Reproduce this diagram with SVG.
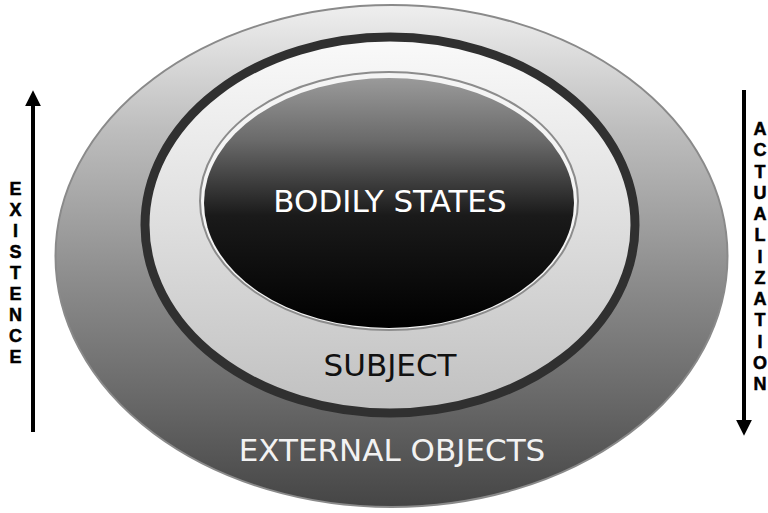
<svg xmlns="http://www.w3.org/2000/svg" width="768" height="513" viewBox="0 0 768 513">
  <defs>
    <linearGradient id="gOuter" x1="0" y1="0" x2="0" y2="1">
      <stop offset="0" stop-color="#efefef"/>
      <stop offset="0.25" stop-color="#bdbdbd"/>
      <stop offset="0.55" stop-color="#8c8c8c"/>
      <stop offset="0.8" stop-color="#666666"/>
      <stop offset="1" stop-color="#454545"/>
    </linearGradient>
    <linearGradient id="gSubject" x1="0" y1="0" x2="0" y2="1">
      <stop offset="0" stop-color="#fafafa"/>
      <stop offset="0.5" stop-color="#dedede"/>
      <stop offset="1" stop-color="#c0c0c0"/>
    </linearGradient>
    <linearGradient id="gInner" x1="0" y1="0" x2="0" y2="1">
      <stop offset="0" stop-color="#9a9a9a"/>
      <stop offset="0.25" stop-color="#6a6a6a"/>
      <stop offset="0.55" stop-color="#1a1a1a"/>
      <stop offset="1" stop-color="#000000"/>
    </linearGradient>
    <marker id="arrow" viewBox="0 0 10 10" refX="2" refY="5" markerWidth="4" markerHeight="4" orient="auto" markerUnits="strokeWidth">
      <path d="M0,0 L10,5 L0,10 Z" fill="#000"/>
    </marker>
    <style>
      .lbl { font-family: "DejaVu Sans", Verdana, sans-serif; font-size: 31px; text-anchor: middle; }
      .vert { font-family: "Liberation Sans", Arial, sans-serif; font-weight: bold; font-size: 18px; text-anchor: middle; fill: #000; stroke: #000; stroke-width: 0.5; }
      .axis { stroke: #000; stroke-width: 4; fill: none; }
    </style>
  </defs>

  <rect width="768" height="513" fill="#ffffff"/>

  <g id="external-objects">
    <ellipse cx="391.5" cy="256" rx="336" ry="251" fill="url(#gOuter)" stroke="#8a8a8a" stroke-width="2"/>
    <text class="lbl" x="392" y="461" fill="#f2f2f2">EXTERNAL OBJECTS</text>
  </g>

  <g id="subject">
    <ellipse cx="390" cy="225" rx="245" ry="188" fill="url(#gSubject)" stroke="#303030" stroke-width="9"/>
    <text class="lbl" x="390" y="376" fill="#111111">SUBJECT</text>
  </g>

  <g id="bodily-states">
    <ellipse cx="389" cy="201" rx="189" ry="129" fill="#f4f4f4" stroke="#8c8c8c" stroke-width="2"/>
    <ellipse cx="389" cy="203" rx="185" ry="125" fill="url(#gInner)"/>
    <text class="lbl" x="390" y="212" fill="#ffffff">BODILY STATES</text>
  </g>

  <g id="connectors">
    <g id="existence">
      <line class="axis" x1="33" y1="432" x2="33" y2="103" marker-end="url(#arrow)"/>
      <text class="vert" x="15.5" y="195">E</text>
      <text class="vert" x="15.5" y="216">X</text>
      <text class="vert" x="15.5" y="237">I</text>
      <text class="vert" x="15.5" y="258">S</text>
      <text class="vert" x="15.5" y="279">T</text>
      <text class="vert" x="15.5" y="300">E</text>
      <text class="vert" x="15.5" y="321">N</text>
      <text class="vert" x="15.5" y="342">C</text>
      <text class="vert" x="15.5" y="363">E</text>
    </g>
    <g id="actualization">
      <line class="axis" x1="744" y1="90" x2="744" y2="423" marker-end="url(#arrow)"/>
      <text class="vert" x="760" y="135">A</text>
      <text class="vert" x="760" y="156.25">C</text>
      <text class="vert" x="760" y="177.5">T</text>
      <text class="vert" x="760" y="198.75">U</text>
      <text class="vert" x="760" y="220">A</text>
      <text class="vert" x="760" y="241.25">L</text>
      <text class="vert" x="760" y="262.5">I</text>
      <text class="vert" x="760" y="283.75">Z</text>
      <text class="vert" x="760" y="305">A</text>
      <text class="vert" x="760" y="326.25">T</text>
      <text class="vert" x="760" y="347.5">I</text>
      <text class="vert" x="760" y="368.75">O</text>
      <text class="vert" x="760" y="390">N</text>
    </g>
  </g>
</svg>
